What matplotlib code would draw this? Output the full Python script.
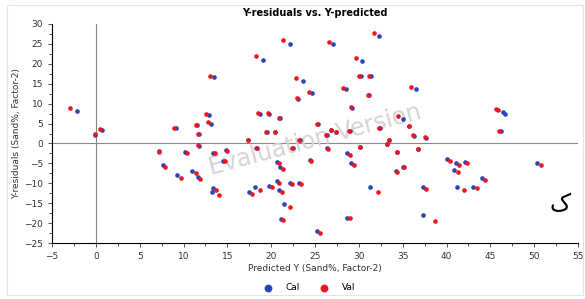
import matplotlib.pyplot as plt
from matplotlib.ticker import MultipleLocator
from matplotlib.patches import Rectangle

# Cal (blue) points
cal_x = [-2.2, -0.05, 0.7, 9.1, 11.5, 11.75, 12.9, 13.1, 13.5, 17.35,
         19.1, 18.7, 19.8, 19.5, 20.45, 21.0, 22.1, 23.6, 23.1, 23.25,
         24.7, 27.1, 32.3, 30.4, 28.5, 30.2, 31.4, 31.2, 36.5, 29.2,
         35.0, 46.4, 46.7, 46.2, 25.3, 26.35, 26.85, 27.45, 28.95, 32.4,
         35.75, 36.25, 37.65, 33.45, 33.25,
         11.75, 18.35, 22.45, 26.4, 28.7, 30.15, 34.35, 36.75, 24.4, 29.1,
         34.2, 35.0, 40.1, 41.1, 42.1, 40.8, 44.0, 41.2, 43.0, 50.3,
         37.3, 31.3, 37.3, 28.7, 25.2, 22.2, 23.2, 21.5, 21.1, 7.15,
         7.7, 9.2, 10.2, 11.0, 11.6, 13.4, 13.4, 13.3, 14.5, 14.8,
         17.5, 18.2, 19.8, 20.7, 21.0, 20.7, 20.9]
cal_y = [8.2, 2.2, 3.4, 4.0, 4.6, 2.3, 7.1, 4.9, 16.6, 0.9,
         20.9, 7.5, 7.5, 2.8, 2.8, 6.3, 25.0, 15.6, 11.1, 0.9,
         12.7, 25.0, 26.9, 20.8, 13.7, 16.9, 16.9, 12.1, 13.7, 9.0,
         6.1, 7.9, 7.5, 3.1, 4.8, 2.0, 3.3, 2.8, 3.1, 3.9,
         4.4, 1.95, 1.45, 0.85, -0.15,
         -0.6, -1.25, -1.25, -1.2, -2.5, -0.95, -2.15, -1.45, -4.2, -5.0,
         -7.0, -5.9, -3.9, -4.9, -4.7, -6.6, -8.7, -11.0, -10.8, -4.9,
         -11.0, -11.0, -18.0, -18.6, -21.9, -10.0, -10.0, -15.2, -19.0, -2.0,
         -5.5, -8.0, -2.1, -6.9, -8.5, -2.4, -11.3, -12.1, -4.3, -1.6,
         -12.3, -11.0, -10.6, -4.6, -5.9, -9.5, -11.6]

# Val (red) points
val_x = [-2.9, -0.1, 0.5, 8.95, 11.4, 11.7, 12.6, 12.8, 13.0, 17.3,
         18.3, 18.5, 19.6, 19.4, 20.4, 20.9, 21.3, 22.8, 22.9, 23.2,
         24.3, 26.6, 31.7, 29.7, 28.2, 30.0, 31.2, 31.0, 36.0, 29.1,
         34.5, 45.6, 45.9, 46.0, 25.2, 26.3, 26.8, 27.4, 28.9, 32.3,
         35.7, 36.2, 37.6, 33.4, 33.2,
         11.7, 18.3, 22.4, 26.45, 29.0, 30.1, 34.3, 36.7, 24.5, 29.5,
         34.3, 35.1, 40.4, 41.4, 42.3, 41.3, 44.4, 42.0, 43.5, 50.8,
         37.7, 32.2, 38.7, 29.0, 25.6, 22.4, 23.4, 22.1, 21.4, 7.2,
         7.9, 9.7, 10.4, 11.4, 11.9, 13.6, 13.7, 14.0, 14.7, 15.0,
         17.8, 18.7, 20.1, 20.9, 21.3, 20.9, 21.2]
val_y = [9.0, 2.3, 3.6, 4.0, 4.7, 2.4, 7.5, 5.3, 17.0, 0.9,
         21.9, 7.6, 7.6, 2.9, 2.9, 6.5, 25.9, 16.4, 11.3, 0.9,
         13.0, 25.5, 27.6, 21.5, 14.0, 17.0, 17.0, 12.2, 14.2, 9.1,
         6.8, 8.6, 8.3, 3.2, 4.9, 2.0, 3.4, 2.9, 3.2, 4.0,
         4.5, 2.0, 1.5, 0.9, -0.1,
         -0.5, -1.2, -1.2, -1.3, -2.8, -0.9, -2.1, -1.4, -4.3, -5.4,
         -7.1, -5.9, -4.3, -5.3, -5.0, -7.1, -9.2, -11.7, -11.3, -5.5,
         -11.5, -12.1, -19.4, -18.8, -22.4, -10.2, -10.2, -15.9, -19.2, -2.1,
         -5.9, -8.6, -2.3, -7.3, -8.9, -2.5, -11.6, -12.9, -4.5, -1.8,
         -12.8, -11.6, -10.8, -4.9, -6.4, -9.9, -12.2]

fig = plt.figure(figsize=(5.85, 2.99), dpi=100)
ax = fig.add_axes([0.089, 0.187, 0.899, 0.733])

ax.axhline(0, color='#888888', lw=0.8, zorder=1)
ax.axvline(0, color='#888888', lw=0.8, zorder=1)

ax.scatter(cal_x, cal_y, s=11, color='#2a45b5', label='Cal', zorder=3, linewidths=0)
ax.scatter(val_x, val_y, s=11, color='#f0141e', label='Val', zorder=4, linewidths=0)

ax.set_xlim(-5, 55)
ax.set_ylim(-25, 30)
ax.xaxis.set_major_locator(MultipleLocator(5))
ax.yaxis.set_major_locator(MultipleLocator(5))
ax.xaxis.set_minor_locator(MultipleLocator(2.5))
ax.yaxis.set_minor_locator(MultipleLocator(2.5))
ax.spines['top'].set_visible(False)
ax.spines['right'].set_visible(False)
ax.tick_params(labelsize=6.5, length=3, width=0.6, colors='#333333')
ax.tick_params(which='minor', length=2, width=0.5)

ax.set_title('Y-residuals vs. Y-predicted', fontsize=7, fontweight='bold', pad=6)
ax.set_xlabel('Predicted Y (Sand%, Factor-2)', fontsize=6.5, color='#333333', labelpad=2)
ax.set_ylabel('Y-residuals (Sand%, Factor-2)', fontsize=6.5, color='#333333', labelpad=2)

ax.text(0.5, 0.47, 'Evaluation Version', transform=ax.transAxes, fontsize=17,
        color='#d4d4d4', rotation=15, ha='center', va='center', zorder=2)
ax.text(52.9, -15.5, 'ک', fontsize=17, family=['Noto Sans', 'DejaVu Sans'],
        ha='center', va='center')

fig.legend(loc='lower center', ncol=2, frameon=False, fontsize=6.5,
           bbox_to_anchor=(0.525, -0.005), markerscale=1.7, columnspacing=1.6,
           handletextpad=1.0)

fig.patches.append(Rectangle((0.012, 0.015), 0.985, 0.968, transform=fig.transFigure,
                             fill=False, edgecolor='#e4e4e4', lw=0.8))

fig.savefig('out.png', dpi=100)
